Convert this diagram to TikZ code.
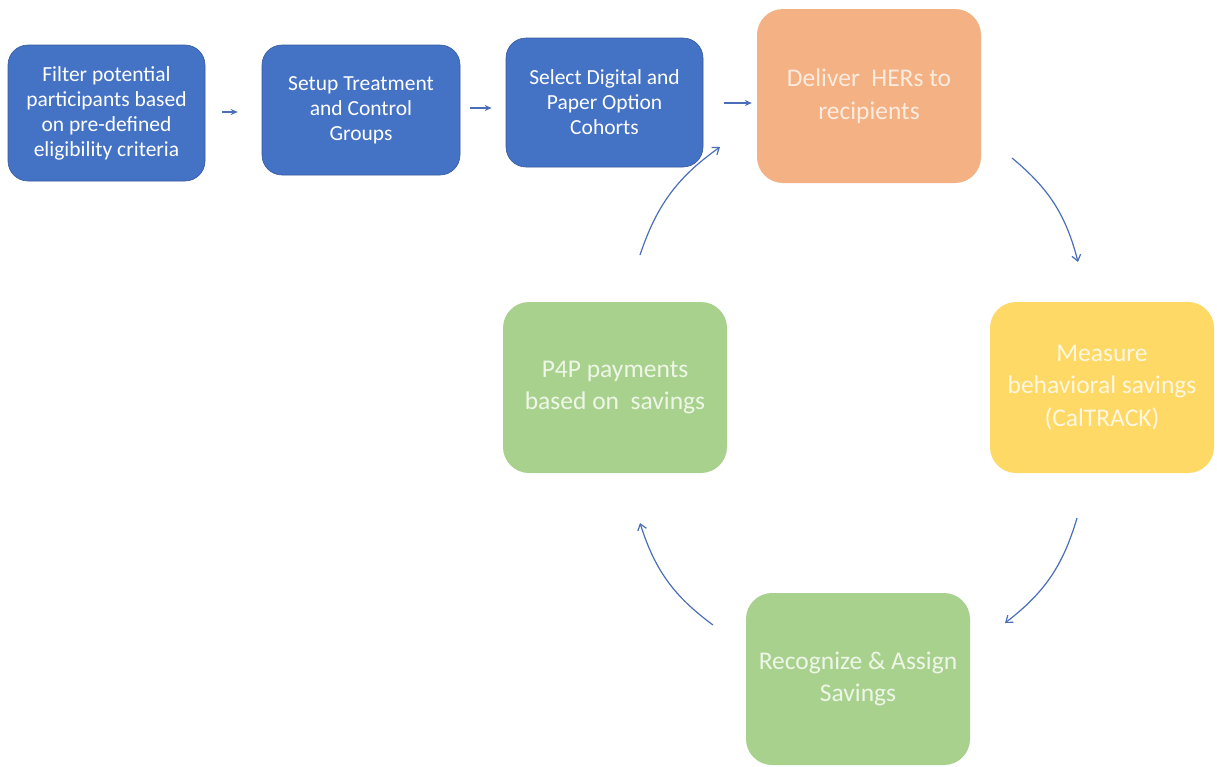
\documentclass[tikz,border=0pt]{standalone}
\usepackage{fontspec}
\setmainfont{Carlito}
\usetikzlibrary{arrows.meta}
\definecolor{bluebox}{HTML}{4472C4}
\definecolor{orangebox}{HTML}{F4B183}
\definecolor{yellowbox}{HTML}{FFD966}
\definecolor{greenbox}{HTML}{A9D18E}
\definecolor{arrowblue}{HTML}{4A6FB8}
\tikzset{
  bluestep/.style={fill=bluebox, draw=bluebox!80!black, line width=0.6pt, rounded corners=20pt, text=white, align=center, font=\fontsize{21.5}{25}\selectfont, inner sep=0pt},
  bigstep/.style={rounded corners=26pt, align=center, font=\fontsize{25.5}{32.5}\selectfont, inner sep=0pt},
  flowarrow/.style={draw=arrowblue, line width=1.2pt, -{Stealth[length=7pt,width=6pt]}},
  cyclearrow/.style={draw=arrowblue, line width=1.2pt, -{Straight Barb[length=6pt,width=9pt]}}
}
\begin{document}
\begin{tikzpicture}[x=1pt,y=-1pt]
\useasboundingbox[fill=white] (0,0) rectangle (1217,766);
\node[bluestep, minimum width=197pt, minimum height=136pt] (filter) at (106.5,113) {Filter potential\\participants based\\on pre-defined\\eligibility criteria};
\node[bluestep, minimum width=198pt, minimum height=130pt] (setup) at (361,110) {Setup Treatment\\and Control\\Groups};
\node[bluestep, minimum width=197pt, minimum height=129pt] (select) at (604.5,102.5) {Select Digital and\\Paper Option\\Cohorts};
\node[bigstep, fill=orangebox, text=orangebox!25!white, minimum width=224pt, minimum height=174pt] (deliver) at (869,96) {Deliver\ \ HERs to\\recipients};
\node[bigstep, fill=yellowbox, text=yellowbox!20!white, minimum width=224pt, minimum height=171pt] (measure) at (1102,387.5) {Measure\\behavioral savings\\(CalTRACK)};
\node[bigstep, fill=greenbox, text=greenbox!20!white, minimum width=224pt, minimum height=171pt] (p4p) at (615,387.5) {P4P payments\\based on\ \ savings};
\node[bigstep, fill=greenbox, text=greenbox!20!white, minimum width=224pt, minimum height=172pt] (recog) at (858,679) {Recognize \& Assign\\Savings};

\draw[flowarrow, shorten <=17pt, shorten >=24pt] (filter.east |- 0,112) -- (setup.west |- 0,112);
\draw[flowarrow, shorten <=10pt, shorten >=14pt] (setup.east |- 0,108) -- (select.west |- 0,108);
\draw[flowarrow, shorten <=21pt, shorten >=5pt] (select.east |- 0,103) -- (deliver.west |- 0,103);

\coordinate (a1s) at (640,255); \coordinate (a1e) at (720,147);
\coordinate (a2s) at (1012,158); \coordinate (a2e) at (1078,262);
\coordinate (a3s) at (1077,518); \coordinate (a3e) at (1005,623);
\coordinate (a4s) at (713,625); \coordinate (a4e) at (640,523);
\draw[cyclearrow] (a1s) to[bend left=18] (a1e);
\draw[cyclearrow] (a2s) to[bend left=18] (a2e);
\draw[cyclearrow] (a3s) to[bend left=18] (a3e);
\draw[cyclearrow] (a4s) to[bend left=18] (a4e);
\end{tikzpicture}
\end{document}
